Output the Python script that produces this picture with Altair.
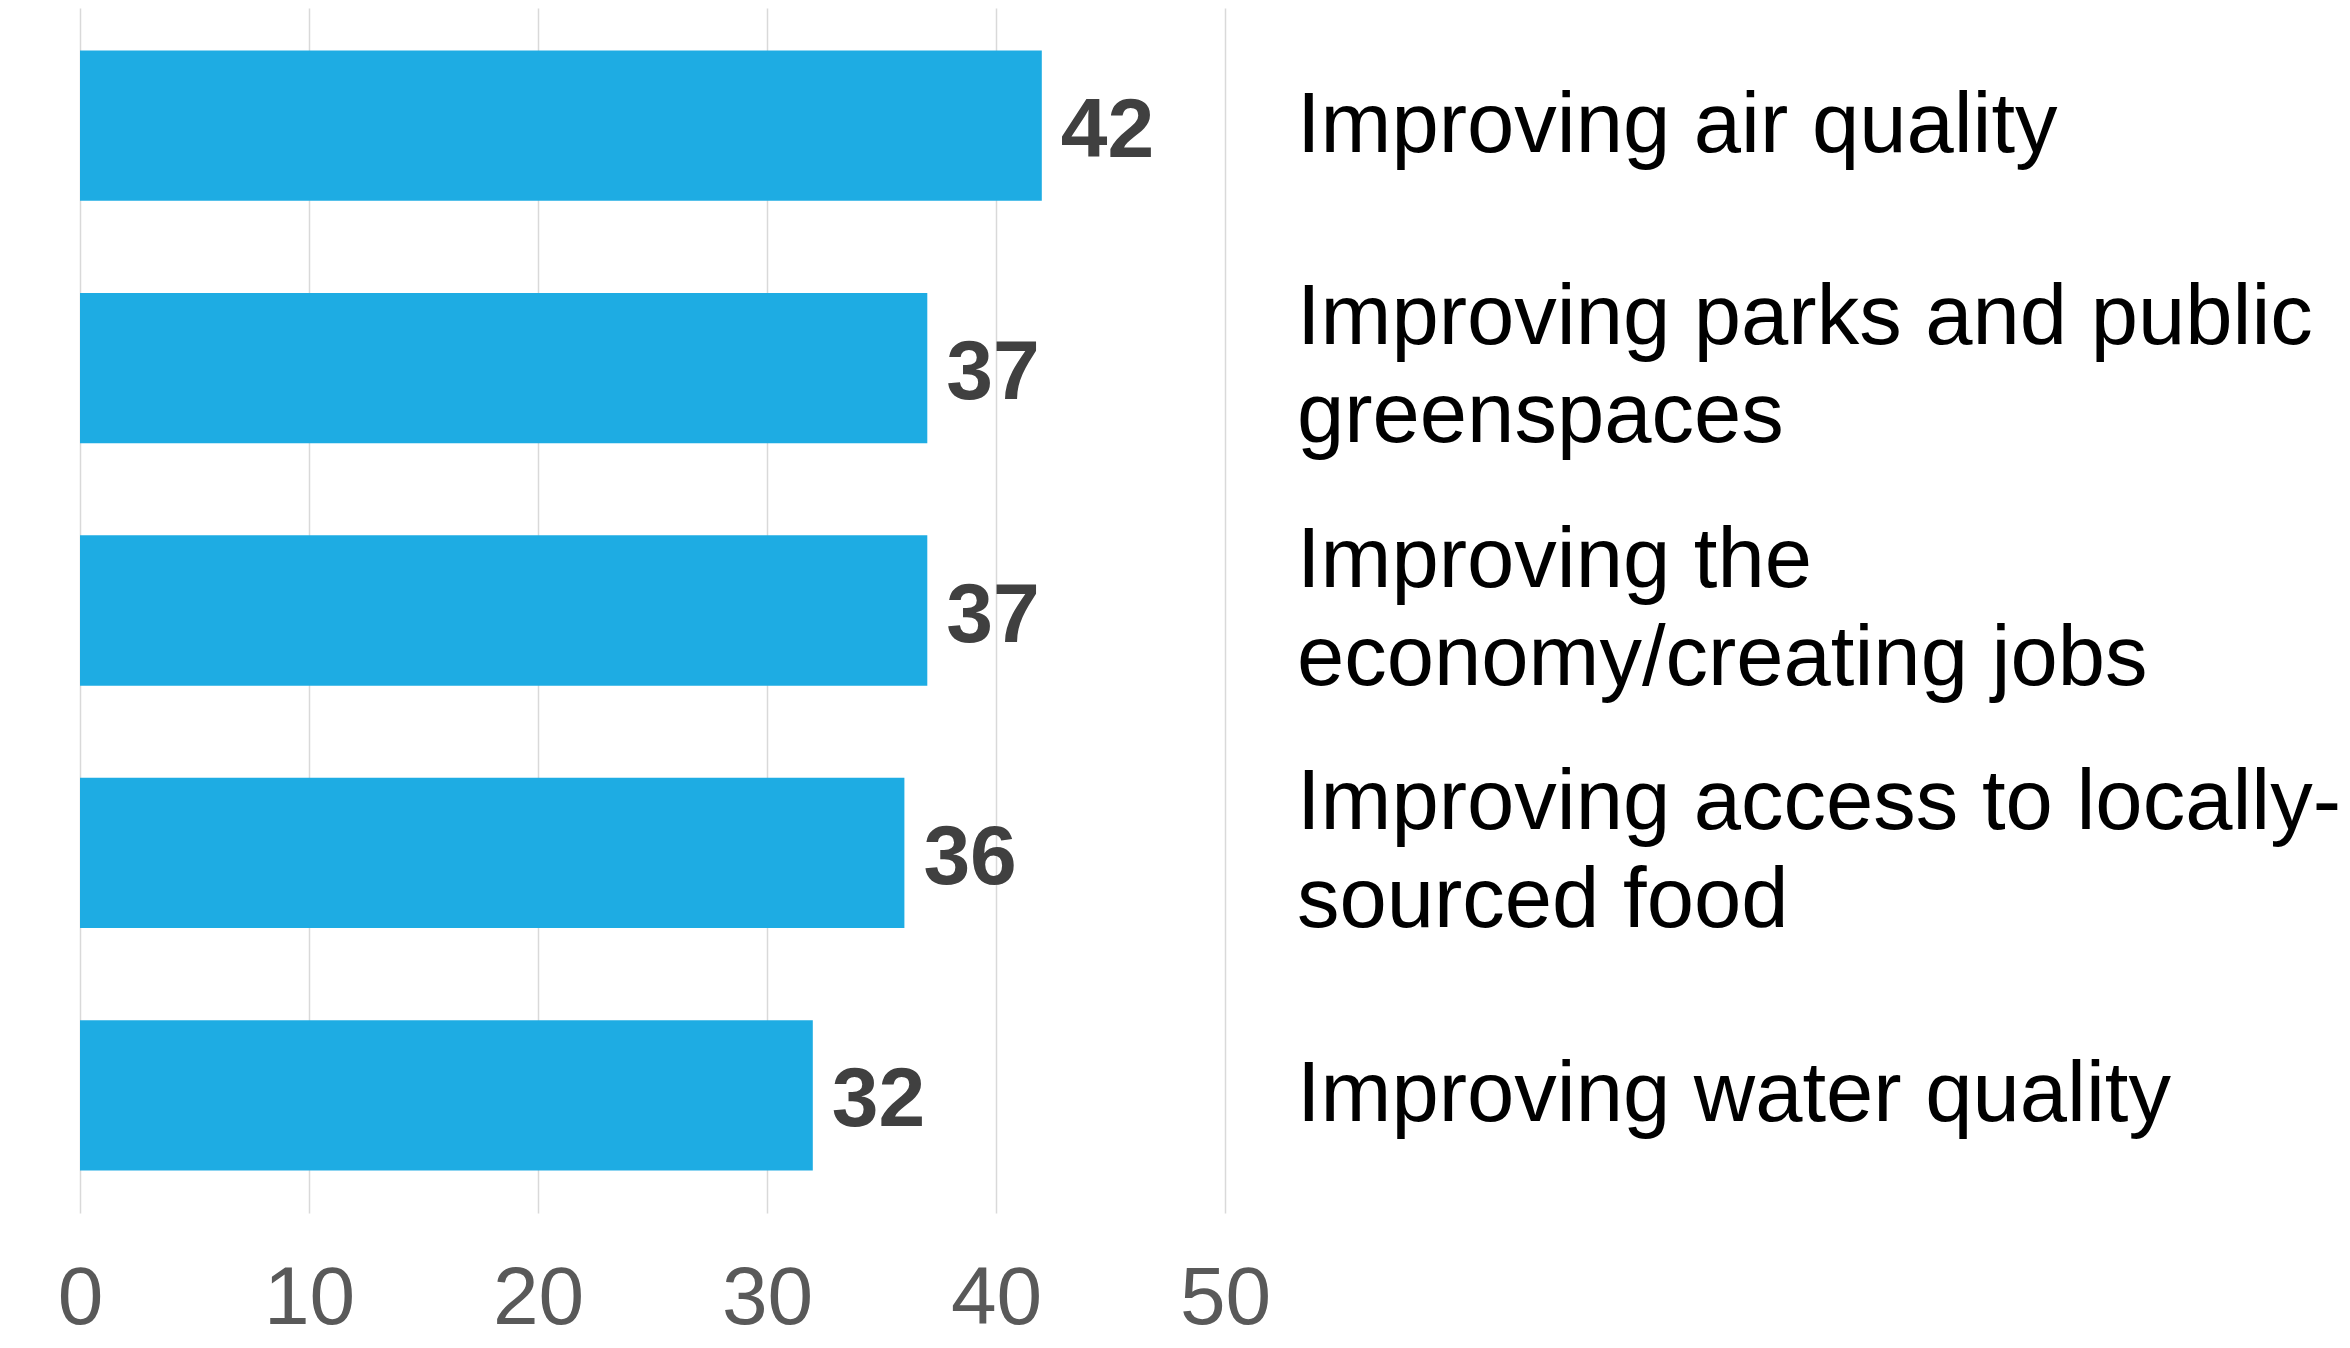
import altair as alt
import pandas as pd

categories = [
    "Improving air quality",
    "Improving parks and public greenspaces",
    "Improving the economy/creating jobs",
    "Improving access to locally-sourced food",
    "Improving water quality",
]
values = [42, 37, 37, 36, 32]
label_lines = [
    ["Improving air quality"],
    ["Improving parks and public", "greenspaces"],
    ["Improving the", "economy/creating jobs"],
    ["Improving access to locally-", "sourced food"],
    ["Improving water quality"],
]
tick_values = [0, 10, 20, 30, 40, 50]

bars_df = pd.DataFrame({"category": categories, "value": values})
rows = []
for cat, lines in zip(categories, label_lines):
    for i, line in enumerate(lines):
        rows.append({"category": cat, "line": line, "idx": i, "n": len(lines)})
lines_df = pd.DataFrame(rows)

FONT = "Liberation Sans"
W, H = 1145, 1205

y_enc = alt.Y("category:N", sort=categories, axis=None,
              scale=alt.Scale(paddingInner=0.38, paddingOuter=0.175))

bars = alt.Chart(bars_df).mark_bar(color="#1eace3").encode(
    x=alt.X("value:Q",
            scale=alt.Scale(domain=[0, 50], nice=False),
            axis=alt.Axis(values=tick_values, title=None, grid=True,
                          gridColor="#d9d9d9", gridWidth=1.5,
                          domain=False, ticks=False, labelFlush=False,
                          labelFont=FONT, labelFontSize=82,
                          labelColor="#595959", labelPadding=45)),
    y=y_enc,
)

value_labels = alt.Chart(bars_df).mark_text(
    align="left", baseline="middle", dx=19, dy=6,
    font=FONT, fontSize=84, fontWeight="bold", color="#404040",
).encode(
    x="value:Q",
    y=y_enc,
    text=alt.Text("value:Q"),
)

LX = 1217

def cat_layer(filt, dy):
    return alt.Chart(lines_df).transform_filter(filt).mark_text(
        align="left", baseline="middle", dy=dy,
        font=FONT, fontSize=85, color="#000000",
    ).encode(
        x=alt.value(LX),
        y=y_enc,
        text="line:N",
    )

single = cat_layer("datum.n == 1", 0)
first = cat_layer("datum.n == 2 && datum.idx == 0", -50)
second = cat_layer("datum.n == 2 && datum.idx == 1", 48)

chart = alt.layer(bars, value_labels, single, first, second).properties(
    width=W, height=H,
    autosize=alt.AutoSizeParams(type="none"),
    padding={"left": 72, "top": 0, "right": 1117, "bottom": 127},
).configure_view(stroke=None)

chart.save("out.html", embed_options={"renderer": "svg", "actions": False})
